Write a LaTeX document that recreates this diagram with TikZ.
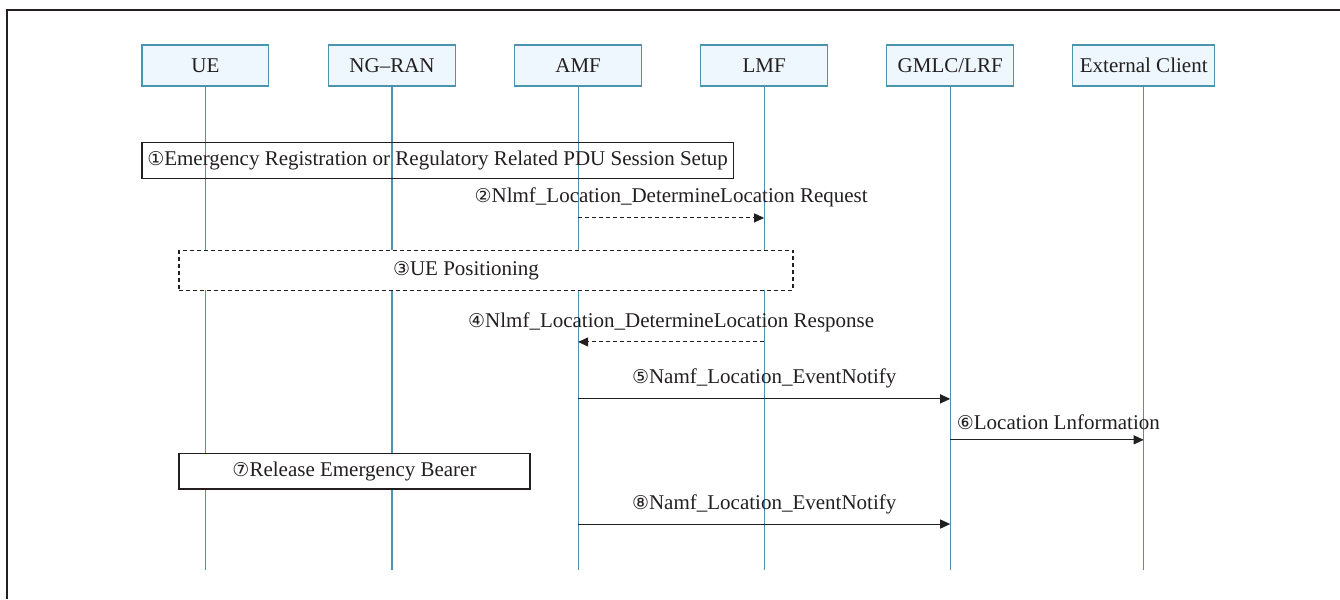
\documentclass[tikz,border=0pt]{standalone}
\usepackage{fontspec}
\setmainfont{Liberation Serif}
\newfontfamily\numfont{DejaVu Sans}
\usepackage{xcolor}
\usepackage{tikz}
\usetikzlibrary{arrows.meta}

\definecolor{lineblue}{HTML}{4C93AD}
\definecolor{headfill}{HTML}{EEF7FD}
\definecolor{inkgray}{HTML}{231F20}
\newcommand{\cnum}[1]{{\numfont\fontsize{9.5pt}{10pt}\selectfont #1}}

\begin{document}
\begin{tikzpicture}[
  font=\fontsize{10.5pt}{12pt}\selectfont, text=inkgray,
  hbox/.style={rectangle, draw=lineblue, fill=headfill, line width=0.6pt,
               minimum width=2.23cm, minimum height=0.72cm, inner sep=2pt},
  sbox/.style={rectangle, draw=inkgray, line width=0.6pt, inner sep=2pt},
  life/.style={draw=lineblue, line width=0.6pt},
  msg/.style={-{Triangle[length=5pt,width=4.5pt]}, draw=inkgray, line width=0.5pt},
  rsp/.style={msg, dash pattern=on 2pt off 1.5pt},
  lbl/.style={above=3pt, inner sep=2pt},
  frame/.style={draw=inkgray, line width=1pt}
]
\useasboundingbox (0,0) rectangle (23.55,-10.53);
\draw[frame] (0.12,-10.53) -- (0.12,-0.18) -- (23.55,-0.18);
%% Entities
\node[hbox] (ue)    at ( 3.61,-1.15) {UE};
\node[hbox] (ngran) at ( 6.89,-1.15) {NG--RAN};
\node[hbox] (amf)   at (10.16,-1.15) {AMF};
\node[hbox] (lmf)   at (13.43,-1.15) {LMF};
\node[hbox] (gmlc)  at (16.70,-1.15) {GMLC/LRF};
\node[hbox, minimum width=2.50cm] (ext) at (20.10,-1.15) {External Client};
%% Lifelines
\coordinate (bot) at (0,-10.02);
\foreach \n in {ue,ngran,amf,lmf,gmlc,ext}
  \draw[life] (\n.south) -- (\n |- bot);
%% Step 1: registration
\node[sbox, minimum width=10.39cm, minimum height=0.63cm] (reg) at (7.69,-2.82)
  {\cnum{①}Emergency Registration or Regulatory Related PDU Session Setup};
%% Step 2: request
\coordinate (m2) at (0,-3.83);
\draw[rsp] (amf |- m2) -- node[lbl]{\cnum{②}Nlmf\_Location\_DetermineLocation Request} (lmf |- m2);
%% Step 3: positioning
\node[sbox, fill=white, dash pattern=on 2pt off 1.5pt, minimum width=10.79cm,
      minimum height=0.70cm] (pos) at (8.54,-4.75) {\cnum{③}UE Positioning\kern0.7cm};
%% Step 4: response
\coordinate (m4) at (0,-6.01);
\draw[rsp] (lmf |- m4) -- node[lbl]{\cnum{④}Nlmf\_Location\_DetermineLocation Response} (amf |- m4);
%% Step 5 and 6: notify
\coordinate (m5) at (0,-7.01);
\draw[msg] (amf |- m5) -- node[lbl]{\cnum{⑤}Namf\_Location\_EventNotify} (gmlc |- m5);
\coordinate (m6) at (0,-7.73);
\draw[msg] (gmlc |- m6) -- node[lbl, xshift=0.2cm]{\cnum{⑥}Location Lnformation} (ext |- m6);
%% Step 7: release
\node[sbox, fill=white, minimum width=6.17cm, minimum height=0.63cm] (rel) at (6.23,-8.28)
  {\cnum{⑦}Release Emergency Bearer};
%% Step 8: notify
\coordinate (m8) at (0,-9.21);
\draw[msg] (amf |- m8) -- node[lbl]{\cnum{⑧}Namf\_Location\_EventNotify} (gmlc |- m8);
\end{tikzpicture}
\end{document}
